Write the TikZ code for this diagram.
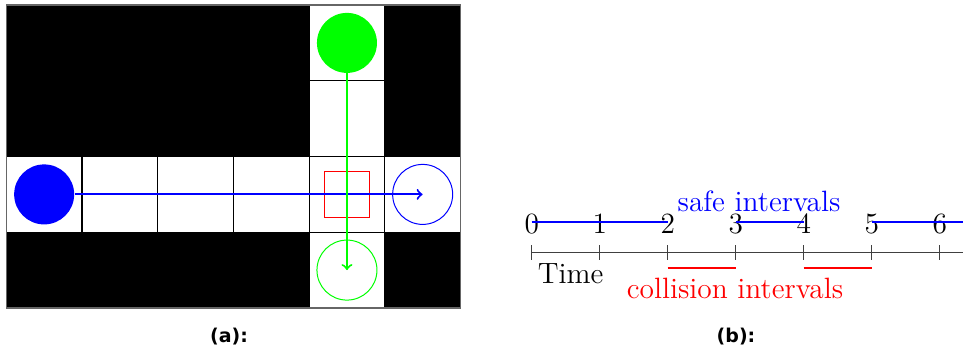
\documentclass[tikz,border=0pt]{standalone}
\usepackage{fontspec}
\newfontfamily\capfont{DejaVu Sans}
\begin{document}
\begin{tikzpicture}[x=0.5pt,y=-0.5pt,
  gridline/.style={draw=black,line width=0.6pt},
  gridborder/.style={draw=black!60,line width=0.7pt},
  agent/.style={circle,inner sep=0pt,minimum size=30pt},
  goal/.style={circle,inner sep=0pt,minimum size=30pt,line width=0.5pt},
  conflict/.style={rectangle,draw=red,line width=0.5pt,inner sep=0pt,minimum size=22.7pt},
  pathline/.style={line width=1pt,->},
  axisline/.style={draw=black!75,line width=0.5pt},
  ticklabel/.style={anchor=base,inner sep=0pt,font=\fontsize{14.7}{17}\selectfont},
  axtext/.style={anchor=base,inner sep=0pt,font=\fontsize{14.7}{17}\selectfont},
  safe/.style={blue,line width=1.1pt},
  unsafe/.style={red,line width=1.1pt},
  caption/.style={anchor=base,inner sep=0pt,font=\capfont\bfseries\fontsize{9.5}{11}\selectfont}]
\useasboundingbox (0,0) rectangle (963,353);

% ---- grid world: obstacles in black, free cells in white
\fill[black] (6.3,5) rectangle (460.5,308);
\fill[white] (309.1,5) rectangle (384.8,308);
\fill[white] (6.3,156.5) rectangle (460.5,232.25);
\foreach \i in {1,...,5}
  \draw[gridline] ({6.3+75.7*\i},5) -- ({6.3+75.7*\i},308);
\foreach \j in {1,...,3}
  \draw[gridline] (6.3,{5+75.75*\j}) -- (460.5,{5+75.75*\j});
\draw[gridborder] (6.3,5) rectangle (460.5,308);

% ---- agents, goals and the conflicting cell
\node[conflict] (cf) at (346.95,194.6) {};
\node[agent,fill=blue] (bs) at (44.15,194.4) {};
\node[goal,draw=blue] (bg) at (422.65,194.4) {};
\node[agent,fill=green] (gs) at (346.95,42.9) {};
\node[goal,draw=green] (gg) at (346.95,270.1) {};
\draw[pathline,blue] (bs) -- (bg.center);
\draw[pathline,green] (gs) -- (gg.center);

% ---- time axis with safe and collision intervals
\foreach \k in {0,...,6}
  \coordinate (t\k) at ({531.7+68*\k},252.7);
\coordinate (tend) at (963,252.7);
\draw[axisline] (t0) -- (tend);
\foreach \k in {0,...,6} {
  \draw[axisline] ([yshift=3.75pt]t\k) -- ([yshift=-3.75pt]t\k);
  \node[ticklabel] (l\k) at ([yshift=9.85pt]t\k) {\k};
}
\draw[safe] ([yshift=15.2pt]t0) -- ([yshift=15.2pt]t2);
\draw[safe] ([yshift=15.2pt]t3) -- ([yshift=15.2pt]t4);
\draw[safe] ([yshift=15.2pt]t5) -- ([yshift=15.2pt]tend);
\draw[unsafe] ([yshift=-7.5pt]t2) -- ([yshift=-7.5pt]t3);
\draw[unsafe] ([yshift=-7.5pt]t4) -- ([yshift=-7.5pt]t5);
\node[axtext,blue] (safelbl) at (759,211) {safe intervals};
\node[axtext,red] (colllbl) at (735,298.3) {collision intervals};
\node[axtext,anchor=base west] (timelbl) at (537.5,283.3) {Time};

% ---- sub-figure captions
\node[caption] (capa) at (229,342) {(a):};
\node[caption] (capb) at (736,342) {(b):};
\end{tikzpicture}
\end{document}
